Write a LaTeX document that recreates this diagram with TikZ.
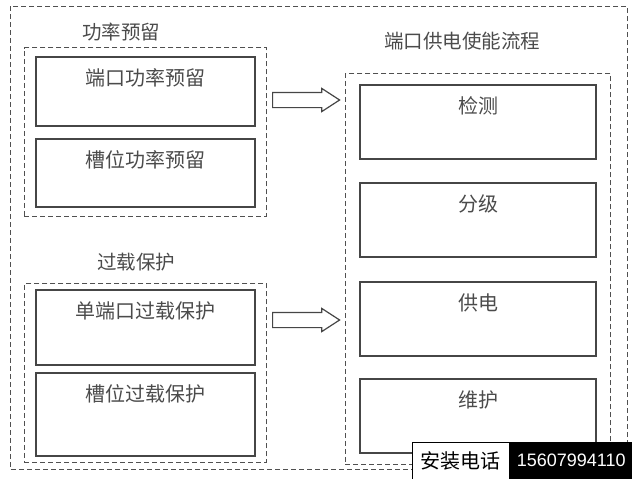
\documentclass[tikz,border=0pt]{standalone}
\usepackage{fontspec}
\setmainfont{Noto Sans CJK SC}
\newfontfamily\digitfont{Liberation Sans}
\usepackage{tikz}
\definecolor{framegray}{RGB}{70, 70, 70}
\definecolor{dashgray}{RGB}{80, 80, 80}
\definecolor{textgray}{RGB}{75, 75, 75}
\usetikzlibrary{shapes, arrows, positioning, fit, backgrounds, calc}

\begin{document}
\begin{tikzpicture}[
    x=1pt, y=-1pt,
    stage/.style={rectangle, draw=framegray, line width=1.3pt, inner sep=0pt,
        label={[anchor=north, yshift=-12.5pt, inner sep=0pt, font=\fontsize{20}{22}\selectfont, text=textgray]north:#1}},
    leftstage/.style={stage=#1, minimum width=219pt},
    rightstage/.style={stage=#1, minimum width=236pt, minimum height=74pt},
    group/.style={rectangle, draw=dashgray, line width=1pt, dash pattern=on 5pt off 3pt},
    grouptitle/.style={font=\fontsize{19.5}{22}\selectfont, text=textgray, inner sep=0pt},
    bigarrow/.style={single arrow, draw=framegray, line width=1.2pt, fill=white, inner xsep=0pt, inner ysep=7pt, minimum height=67pt, single arrow head extend=4pt, single arrow tip angle=66, anchor=tail}
]
    \useasboundingbox (0,0) rectangle (632,479);

    % outer frame
    \draw[group] (10,6) rectangle (627,469);

    % power reservation
    \node[grouptitle] (restitle) at (121,32) {功率预留};
    \node[leftstage=端口功率预留, minimum height=69pt] (portres) at (145.5,91.5) {};
    \node[leftstage=槽位功率预留, minimum height=68pt] (slotres) at (145.5,173) {};
    \node[group, fit=(portres)(slotres), inner xsep=11pt, inner ysep=8.5pt] (resgroup) {};

    % overload protection
    \node[grouptitle] (oltitle) at (136,262) {过载保护};
    \node[leftstage=单端口过载保护, minimum height=75pt] (portol) at (145.5,327.5) {};
    \node[leftstage=槽位过载保护, minimum height=83pt] (slotol) at (145.5,414.5) {};
    \node[group, fit=(portol)(slotol), inner xsep=11pt, inner ysep=5.5pt] (olgroup) {};

    % port power enable flow
    \node[grouptitle] (flowtitle) at (462,41) {端口供电使能流程};
    \node[rightstage=检测] (detect) at (478,122) {};
    \node[rightstage=分级] (classify) at (478,220) {};
    \node[rightstage=供电] (supply) at (478,319) {};
    \node[rightstage=维护] (maintain) at (478,416) {};
    \node[group, fit=(detect)(maintain), inner xsep=14pt, inner ysep=10.5pt] (flowgroup) {};

    % block arrows
    \node[bigarrow] (resarrow) at (272,100) {};
    \node[bigarrow] (olarrow) at (272,320) {};

    % phone tag
    \node[draw=black, fill=white, line width=1pt, minimum width=97pt, minimum height=37pt, inner sep=0pt, font=\fontsize{20}{22}\selectfont] (telname) at (460.5,460.5) {安装电话};
    \node[fill=black, text=white, minimum width=123pt, minimum height=37pt, inner sep=0pt, anchor=west, font=\digitfont\fontsize{18}{22}\selectfont] (telnum) at (telname.east) {15607994110};
\end{tikzpicture}
\end{document}
